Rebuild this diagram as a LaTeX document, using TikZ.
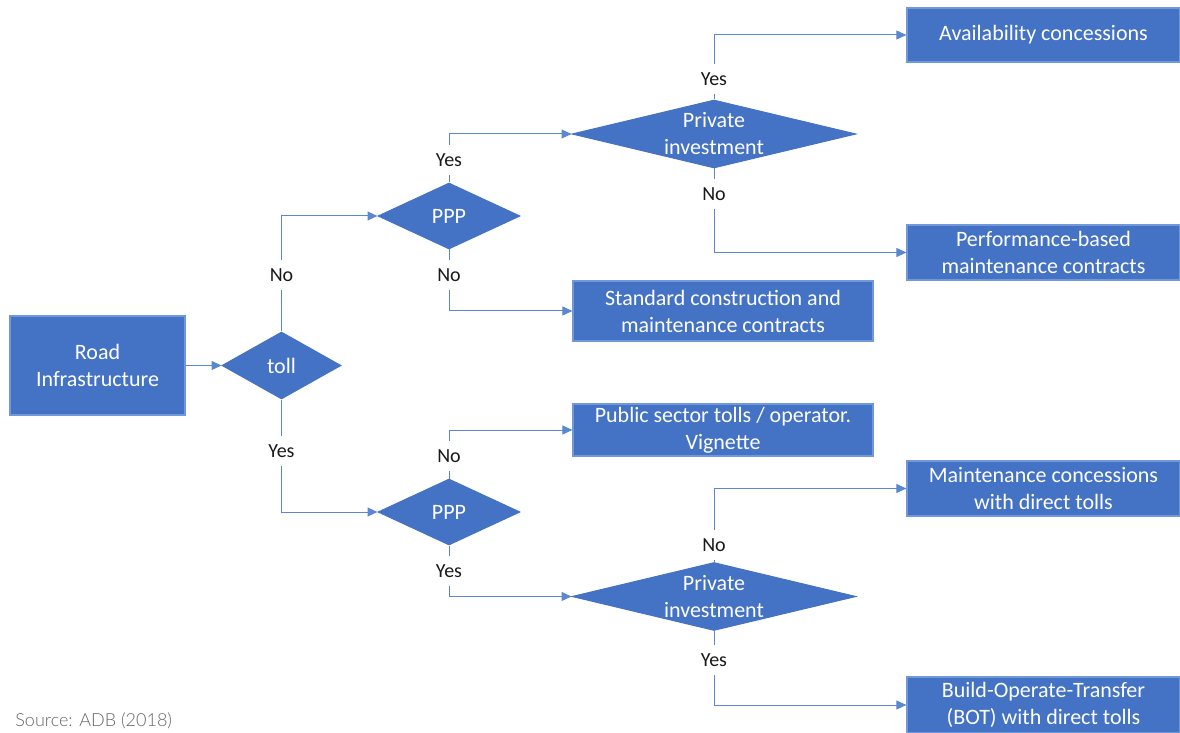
\documentclass[tikz,border=0pt]{standalone}
\usepackage{fontspec}
\setmainfont{Carlito}
\newfontfamily\srcfont{Lato Light}
\usetikzlibrary{shapes.geometric,arrows.meta}
\definecolor{fillblue}{HTML}{4472C4}
\definecolor{edgeblue}{HTML}{6F99D8}
\definecolor{lineblue}{HTML}{5A88D0}
\tikzset{
  box/.style={rectangle, fill=fillblue, draw=edgeblue, line width=0.6pt, text=white,
    align=center, font=\fontsize{11}{13.5}\selectfont, inner sep=0pt},
  dia/.style={diamond, fill=fillblue, draw=fillblue, line width=0.5pt, inner sep=0pt},
  dtext/.style={text=white, align=center, font=\fontsize{11}{13.5}\selectfont, inner sep=0pt},
  lab/.style={text=black!90, font=\fontsize{10}{12}\selectfont, inner xsep=2pt, inner ysep=4pt,
    text height=6.8pt, text depth=0pt},
  conn/.style={draw=lineblue, line width=0.5pt},
  arr/.style={conn, -{Triangle[length=5pt,width=4.5pt]}}
}
\begin{document}
\begin{tikzpicture}[x=0.5pt,y=-0.5pt]
\useasboundingbox (0,0) rectangle (1180,733);
% boxes
\node[box, minimum width=87.5pt, minimum height=49.5pt] (road) at (97.5,365.5) {Road\\Infrastructure};
\node[box, minimum width=136.5pt, minimum height=27pt] (avail) at (1043.5,35) {Availability concessions};
\node[box, minimum width=136.5pt, minimum height=27.5pt] (perf) at (1043.5,252.5) {Performance-based\\maintenance contracts};
\node[box, minimum width=150pt, minimum height=30pt] (std) at (723,311) {Standard construction and\\maintenance contracts};
\node[box, minimum width=150pt, minimum height=26pt] (pub) at (723,430) {Public sector tolls / operator.\\Vignette};
\node[box, minimum width=136.5pt, minimum height=27.5pt] (maint) at (1043.5,488.5) {Maintenance concessions\\with direct tolls};
\node[box, minimum width=136.5pt, minimum height=28pt] (bot) at (1043.5,705) {Build-Operate-Transfer\\(BOT) with direct tolls};
% diamonds
\node[dia, minimum width=59.5pt, minimum height=33.5pt] (toll) at (281.5,365.5) {};
\node[dtext] (tolltxt) at (toll.center) {toll};
\node[dia, minimum width=71pt, minimum height=33pt] (ppp1) at (449,216) {};
\node[dtext] (ppp1txt) at (ppp1.center) {PPP};
\node[dia, minimum width=71pt, minimum height=33pt] (ppp2) at (449,512) {};
\node[dtext] (ppp2txt) at (ppp2.center) {PPP};
\node[dia, minimum width=142pt, minimum height=34pt] (pi1) at (714,134) {};
\node[dtext] (pi1txt) at (pi1.center) {Private\\investment};
\node[dia, minimum width=142pt, minimum height=34pt] (pi2) at (714,596.5) {};
\node[dtext] (pi2txt) at (pi2.center) {Private\\investment};
% labels
\node[lab] (l1) at (281.5,275) {No};
\node[lab] (l2) at (449,160) {Yes};
\node[lab] (l3) at (714,79) {Yes};
\node[lab] (l4) at (714,194) {No};
\node[lab] (l5) at (449,275) {No};
\node[lab] (l6) at (281.5,451) {Yes};
\node[lab] (l7) at (449,456) {No};
\node[lab] (l8) at (449,571) {Yes};
\node[lab] (l9) at (714,545) {No};
\node[lab] (l10) at (714,660) {Yes};
% connectors
\draw[arr] (road.east) -- (toll.west);
\draw[conn] (toll.north) -- (l1.south);
\draw[arr] (l1.north) |- (ppp1.west);
\draw[conn] (ppp1.north) -- (l2.south);
\draw[arr] (l2.north) |- (pi1.west);
\draw[conn] (pi1.north) -- (l3.south);
\draw[arr] (l3.north) |- (avail.west);
\draw[conn] (pi1.south) -- (l4.north);
\draw[arr] (l4.south) |- (perf.west);
\draw[conn] (ppp1.south) -- (l5.north);
\draw[arr] (l5.south) |- (std.west);
\draw[conn] (toll.south) -- (l6.north);
\draw[arr] (l6.south) |- (ppp2.west);
\draw[conn] (ppp2.north) -- (l7.south);
\draw[arr] (l7.north) |- (pub.west);
\draw[conn] (ppp2.south) -- (l8.north);
\draw[arr] (l8.south) |- (pi2.west);
\draw[conn] (pi2.north) -- (l9.south);
\draw[arr] (l9.north) |- (maint.west);
\draw[conn] (pi2.south) -- (l10.north);
\draw[arr] (l10.south) |- (bot.west);
% source
\node[anchor=base west, inner sep=0pt, text=black!60, font=\srcfont\fontsize{9}{11}\selectfont] (src) at (15,726) {Source: ADB (2018)};
\end{tikzpicture}
\end{document}
